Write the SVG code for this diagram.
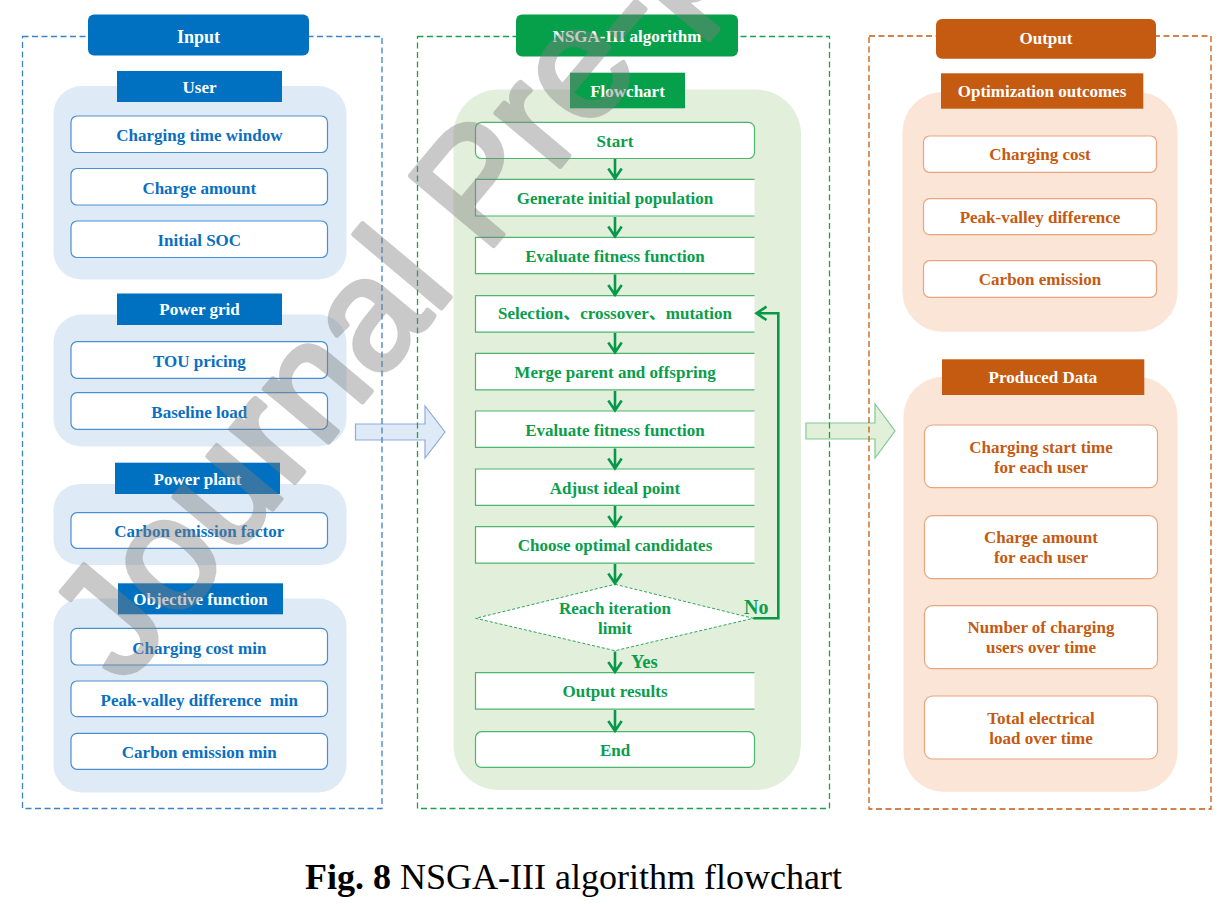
<svg xmlns="http://www.w3.org/2000/svg" width="1226" height="904" viewBox="0 0 1226 904">
<style>
text{font-family:"Liberation Serif","Noto Sans CJK SC",serif;font-weight:bold;font-size:17px;text-anchor:middle}
.w{fill:#fff}
.tb{fill:#0B6FC0}
.tg{fill:#0A9D4B}
.to{fill:#C55A11}
.hb{fill:#0070C0}
.hg{fill:#07A04A}
.ho{fill:#C55A11}
.gb{fill:#DEEBF7}
.gg{fill:#E2EFDA}
.go{fill:#FBE5D6}
.ib{fill:#fff;stroke:#4A8FD4;stroke-width:1.2}
.io{fill:#fff;stroke:#E9A57D;stroke-width:1.2}
.ig{fill:#fff;stroke:#4DB56E;stroke-width:1.2}
.pw{fill:#fff}
.pl{fill:none;stroke:#4DB56E;stroke-width:1.2}
.db{fill:none;stroke:#3C82C8;stroke-width:1.3;stroke-dasharray:6 3.5}
.dg{fill:none;stroke:#1E9E50;stroke-width:1.3;stroke-dasharray:6 3.5}
.do{fill:none;stroke:#C55A11;stroke-width:1.3;stroke-dasharray:6 3.5}
.ar{fill:none;stroke:#07994A;stroke-width:2.6}
</style>

<!-- big transfer arrows -->
<g id="bigArrows">
<polygon points="355.5,424 425,424 425,406 445,432 425,458 425,440 355.5,440" fill="#DEEBF7" stroke="#8FAADC" stroke-width="1.2"/>
<polygon points="806,423 875,423 875,404 895,431 875,458 875,439 806,439" fill="#E2F0D9" stroke="#7CCB94" stroke-width="1.2"/>
</g>

<!-- panel borders -->
<rect class="db" x="22.5" y="36.5" width="359.5" height="772"/>
<rect class="dg" x="417.5" y="36.5" width="412" height="772"/>
<rect class="do" x="869" y="36" width="342" height="773"/>

<!-- INPUT PANEL -->
<g id="input-header"><rect class="hb" x="88" y="14.5" width="221" height="41" rx="6"/><text class="w" x="198.5" y="42.5" style="font-size:18px">Input</text></g>

<g id="user-group">
<rect class="gb" x="53.5" y="86" width="293" height="193.5" rx="28"/>
<rect class="hb" x="117" y="71" width="165" height="31"/><text class="w" x="199.5" y="92.5">User</text>
</g>
<g id="charging-time-window"><rect class="ib" x="71" y="116" width="256.5" height="36.5" rx="6"/><text class="tb" x="199.3" y="141.3">Charging time window</text></g>
<g id="charge-amount"><rect class="ib" x="71" y="168.5" width="256.5" height="36.5" rx="6"/><text class="tb" x="199.3" y="193.5">Charge amount</text></g>
<g id="initial-soc"><rect class="ib" x="71" y="221" width="256.5" height="36.5" rx="6"/><text class="tb" x="199.3" y="246">Initial SOC</text></g>

<g id="power-grid-group">
<rect class="gb" x="53.5" y="314.5" width="293" height="132" rx="28"/>
<rect class="hb" x="117" y="293.5" width="165" height="31.5"/><text class="w" x="199.5" y="315">Power grid</text>
</g>
<g id="tou-pricing"><rect class="ib" x="71" y="341.7" width="256.5" height="36.6" rx="6"/><text class="tb" x="199.3" y="366.8">TOU pricing</text></g>
<g id="baseline-load"><rect class="ib" x="71" y="392.7" width="256.5" height="36.6" rx="6"/><text class="tb" x="199.3" y="417.8">Baseline load</text></g>

<g id="power-plant-group">
<rect class="gb" x="53.5" y="484" width="293" height="81" rx="26"/>
<rect class="hb" x="115" y="462.7" width="165" height="31.3"/><text class="w" x="197.5" y="484.8">Power plant</text>
</g>
<g id="carbon-emission-factor"><rect class="ib" x="71" y="512.7" width="256.5" height="35.6" rx="6"/><text class="tb" x="199.3" y="537.3">Carbon emission factor</text></g>

<g id="objective-group">
<rect class="gb" x="53.5" y="598.5" width="293" height="194" rx="28"/>
<rect class="hb" x="118" y="583.3" width="165" height="31"/><text class="w" x="200.5" y="604.5">Objective function</text>
</g>
<g id="charging-cost-min"><rect class="ib" x="71" y="628.3" width="256.5" height="36.7" rx="6"/><text class="tb" x="199.3" y="653.5">Charging cost min</text></g>
<g id="peak-valley-min"><rect class="ib" x="71" y="681" width="256.5" height="35.7" rx="6"/><text class="tb" x="199.3" y="705.5" xml:space="preserve">Peak-valley difference  min</text></g>
<g id="carbon-emission-min"><rect class="ib" x="71" y="733.3" width="256.5" height="36" rx="6"/><text class="tb" x="199.3" y="758">Carbon emission min</text></g>

<!-- ALGORITHM PANEL -->
<g id="nsga-header"><rect class="hg" x="516" y="14.5" width="222" height="42" rx="6"/><text class="w" x="627" y="41.7">NSGA-III algorithm</text></g>
<g id="flowchart-group">
<rect class="gg" x="453.5" y="89.5" width="347.5" height="700.5" rx="45"/>
<rect class="hg" x="570" y="72.7" width="115" height="35.6"/><text class="w" x="627.5" y="96.7">Flowchart</text>
</g>

<g id="start"><rect class="ig" x="475.5" y="122.3" width="279" height="36.2" rx="6"/><text class="tg" x="615" y="146.7">Start</text></g>
<g id="generate"><rect class="pw" x="475.5" y="179.3" width="279" height="36.7"/><path class="pl" d="M754.5,179.3 H475.5 V216 H754.5"/><text class="tg" x="615" y="204">Generate initial population</text></g>
<g id="evaluate1"><rect class="pw" x="475.5" y="237.3" width="279" height="36.3"/><path class="pl" d="M754.5,237.3 H475.5 V273.6 H754.5"/><text class="tg" x="615" y="261.7">Evaluate fitness function</text></g>
<g id="selection"><rect class="pw" x="475.5" y="295.7" width="279" height="36.5"/><path class="pl" d="M754.5,295.7 H475.5 V332.2 H754.5"/><text class="tg" x="615" y="319.3">Selection、crossover、mutation</text></g>
<g id="merge"><rect class="pw" x="475.5" y="353.3" width="279" height="36.6"/><path class="pl" d="M754.5,353.3 H475.5 V389.9 H754.5"/><text class="tg" x="615" y="378">Merge parent and offspring</text></g>
<g id="evaluate2"><rect class="pw" x="475.5" y="411" width="279" height="36.4"/><path class="pl" d="M754.5,411 H475.5 V447.4 H754.5"/><text class="tg" x="615" y="435.5">Evaluate fitness function</text></g>
<g id="adjust"><rect class="pw" x="475.5" y="469" width="279" height="36.4"/><path class="pl" d="M754.5,469 H475.5 V505.4 H754.5"/><text class="tg" x="615" y="493.5">Adjust ideal point</text></g>
<g id="choose"><rect class="pw" x="475.5" y="526.7" width="279" height="36.4"/><path class="pl" d="M754.5,526.7 H475.5 V563.1 H754.5"/><text class="tg" x="615" y="551">Choose optimal candidates</text></g>
<g id="decision"><polygon points="615,584.3 753.3,618.3 615,650.7 475.7,618.3" fill="#fff" stroke="#2EA55A" stroke-width="1" stroke-dasharray="3 2"/><text class="tg" x="615" y="613.5">Reach iteration</text><text class="tg" x="615" y="634">limit</text></g>
<g id="output-results"><rect class="pw" x="475.5" y="672.7" width="279" height="36.5"/><path class="pl" d="M754.5,672.7 H475.5 V709.2 H754.5"/><text class="tg" x="615" y="697">Output results</text></g>
<g id="end"><rect class="ig" x="475.5" y="731.7" width="279" height="35.7" rx="6"/><text class="tg" x="615" y="756">End</text></g>

<g id="connectors">
<path class="ar" d="M615,159 V178.5 M608.3,168.5 L615,178.5 L621.7,168.5"/>
<path class="ar" d="M615,217 V236.5 M608.3,226.5 L615,236.5 L621.7,226.5"/>
<path class="ar" d="M615,274.5 V295 M608.3,285 L615,295 L621.7,285"/>
<path class="ar" d="M615,333 V352.5 M608.3,342.5 L615,352.5 L621.7,342.5"/>
<path class="ar" d="M615,391 V410.5 M608.3,400.5 L615,410.5 L621.7,400.5"/>
<path class="ar" d="M615,448.5 V468.5 M608.3,458.5 L615,468.5 L621.7,458.5"/>
<path class="ar" d="M615,506 V526 M608.3,516 L615,526 L621.7,516"/>
<path class="ar" d="M615,564 V583.5 M608.3,573.5 L615,583.5 L621.7,573.5"/>
<path class="ar" d="M615,651.5 V672 M608.3,662 L615,672 L621.7,662"/>
<path class="ar" d="M615,710 V731 M608.3,721 L615,731 L621.7,721"/>
<path class="ar" d="M753.3,618.3 H778.3 V313.3 H756.5 M766.5,306.6 L756.5,313.3 L766.5,320"/>
<text class="tg" x="744" y="614" style="font-size:20px;text-anchor:start">No</text>
<text class="tg" x="631" y="668.3" style="font-size:18.5px;text-anchor:start">Yes</text>
</g>

<!-- OUTPUT PANEL -->
<g id="output-header"><rect class="ho" x="936" y="19" width="220" height="39.7" rx="6"/><text class="w" x="1046" y="44">Output</text></g>
<g id="optimization-group">
<rect class="go" x="902.5" y="92" width="275" height="239.7" rx="40"/>
<rect class="ho" x="941" y="73.3" width="202.3" height="35.4"/><text class="w" x="1042" y="96.7">Optimization outcomes</text>
</g>
<g id="charging-cost"><rect class="io" x="923.5" y="136" width="233" height="36.3" rx="6"/><text class="to" x="1040" y="160">Charging cost</text></g>
<g id="peak-valley"><rect class="io" x="923.5" y="198.7" width="233" height="36" rx="6"/><text class="to" x="1040" y="222.7">Peak-valley difference</text></g>
<g id="carbon-emission"><rect class="io" x="923.5" y="260.7" width="233" height="36.6" rx="6"/><text class="to" x="1040" y="284.5">Carbon emission</text></g>

<g id="produced-group">
<rect class="go" x="903.5" y="376.7" width="274" height="415" rx="40"/>
<rect class="ho" x="942" y="359.3" width="202.3" height="35.7"/><text class="w" x="1043" y="383.3">Produced Data</text>
</g>
<g id="start-time"><rect class="io" x="924.5" y="425" width="233" height="62.7" rx="8"/><text class="to" x="1041" y="453.3">Charging start time</text><text class="to" x="1041" y="473.3">for each user</text></g>
<g id="charge-amount-user"><rect class="io" x="924.5" y="515.7" width="233" height="63" rx="8"/><text class="to" x="1041" y="543.3">Charge amount</text><text class="to" x="1041" y="563.3">for each user</text></g>
<g id="number-users"><rect class="io" x="924.5" y="605.7" width="233" height="63" rx="8"/><text class="to" x="1041" y="633.3">Number of charging</text><text class="to" x="1041" y="653.3">users over time</text></g>
<g id="total-load"><rect class="io" x="924.5" y="696" width="233" height="63" rx="8"/><text class="to" x="1041" y="724">Total electrical</text><text class="to" x="1041" y="744">load over time</text></g>

<!-- caption -->
<text x="305" y="889" style="font-size:36px;text-anchor:start;font-weight:normal;fill:#000">
<tspan style="font-weight:bold">Fig. 8</tspan> NSGA-III algorithm flowchart</text>

<!-- watermark -->
<g opacity="0.42">
<text transform="translate(124,686) rotate(-50)" style="font-family:'Liberation Sans',Arial,sans-serif;font-weight:normal;font-size:158px;text-anchor:start;fill:#7f7f7f;stroke:#7f7f7f;stroke-width:5;stroke-linejoin:round">Journal Pre-proof</text>
</g>
</svg>
